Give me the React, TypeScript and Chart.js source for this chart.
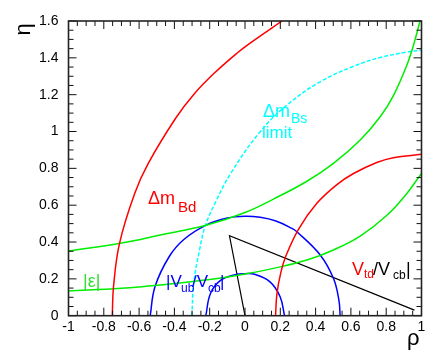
import { useEffect, useRef } from 'react';
import { Chart, registerables } from 'chart.js';

Chart.register(...registerables);

// ---------- axis ticks ----------
const xTicks = [-1, -0.8, -0.6, -0.4, -0.2, 0, 0.2, 0.4, 0.6, 0.8, 1];
const yTicks = [0, 0.2, 0.4, 0.6, 0.8, 1, 1.2, 1.4, 1.6];
const minorStep = 0.05;
const majorStep = 0.2;

// ---------- curves (rho, eta) ----------
// Δm_Bd outer
const dmBdOuterRho = [-0.752, -0.745, -0.711, -0.625, -0.548, -0.393, -0.288, -0.175, -0.046, 0.029, 0.21];
const dmBdOuterEta = [0, 0.157, 0.393, 0.664, 0.827, 1.072, 1.204, 1.316, 1.425, 1.48, 1.6];
// Δm_Bd inner
const dmBdInnerRho = [0.173, 0.181, 0.202, 0.23, 0.303, 0.407, 0.521, 0.615, 0.75, 0.84, 1.0];
const dmBdInnerEta = [0, 0.12, 0.23, 0.32, 0.469, 0.61, 0.712, 0.772, 0.833, 0.858, 0.876];
// |ε| lower
const epsLowRho = [-1, -0.7, -0.48, -0.2, 0, 0.161, 0.351, 0.501, 0.653, 0.804, 0.917, 1.0];
const epsLowEta = [0.134, 0.149, 0.167, 0.196, 0.226, 0.257, 0.302, 0.357, 0.432, 0.545, 0.664, 0.773];
// |ε| upper
const epsHighRho = [-1, -0.707, -0.48, -0.216, 0, 0.161, 0.351, 0.501, 0.653, 0.766, 0.841, 0.917, 0.955, 0.993];
const epsHighEta = [0.351, 0.393, 0.438, 0.492, 0.56, 0.633, 0.73, 0.827, 0.954, 1.08, 1.195, 1.36, 1.47, 1.605];
// Δm_Bs limit
const bsLimitRho = [-0.301, -0.29, -0.257, -0.225, -0.165, -0.08, 0.086, 0.237, 0.426, 0.615, 0.766, 0.917, 1.0];
const bsLimitEta = [0, 0.18, 0.36, 0.488, 0.62, 0.774, 0.999, 1.143, 1.27, 1.354, 1.402, 1.431, 1.442];
// |Vub/Vcb| outer
const vubBigRho = [-0.537, -0.51, -0.43, -0.345, -0.22, -0.1, 0, 0.086, 0.175, 0.266, 0.294, 0.426, 0.501, 0.532, 0.539];
const vubBigEta = [0, 0.157, 0.32, 0.415, 0.492, 0.53, 0.54, 0.534, 0.514, 0.474, 0.456, 0.33, 0.203, 0.085, 0];
// |Vub/Vcb| inner
const vubSmallRho = [-0.222, -0.195, -0.135, -0.046, 0, 0.048, 0.14, 0.199, 0.224];
const vubSmallEta = [0, 0.122, 0.194, 0.225, 0.228, 0.226, 0.185, 0.103, 0];
// unitarity triangle
const triRho = [0, -0.088, 0.96];
const triEta = [0, 0.434, 0.03];

const FONT = '"Liberation Sans", Arial, Helvetica, sans-serif';
const RED = '#ff0000';
const GREEN = '#00ee00';
const BLUE = '#0000ff';
const CYAN = '#00ffff';

const pts = (xs: number[], ys: number[]) => xs.map((x, i) => ({ x, y: ys[i] }));
const fmt = (v: number) => String(Math.round(v * 10) / 10);

type Piece = { t: string; x: number; y: number; size: number; color: string };
const pieces: Piece[] = [
  { t: 'Δm', x: 148, y: 203.5, size: 18, color: RED },
  { t: 'Bd', x: 178, y: 212, size: 15, color: RED },
  { t: 'Δm', x: 263, y: 117, size: 18, color: CYAN },
  { t: 'Bs', x: 291, y: 123, size: 14, color: CYAN },
  { t: 'limit', x: 262, y: 138, size: 17, color: CYAN },
  { t: '|ε|', x: 83, y: 287, size: 18, color: '#33dd33' },
  { t: '|V', x: 166, y: 286.5, size: 17, color: BLUE },
  { t: 'ub', x: 181, y: 292, size: 12, color: BLUE },
  { t: '/V', x: 192, y: 286.5, size: 17, color: BLUE },
  { t: 'cb', x: 208, y: 292, size: 12, color: BLUE },
  { t: '|', x: 220, y: 286.5, size: 17, color: BLUE },
  { t: 'V', x: 352, y: 275, size: 18, color: RED },
  { t: 'td', x: 364, y: 278, size: 12, color: RED },
  { t: '/V', x: 373, y: 275, size: 18, color: '#000' },
  { t: 'cb', x: 393, y: 279, size: 12, color: '#000' },
  { t: '|', x: 406, y: 275, size: 18, color: '#000' },
  { t: 'ρ', x: 407, y: 345, size: 22, color: '#000' },
];

const framePlugin = {
  id: 'rootFrame',
  afterDatasetsDraw(chart: any) {
    const { ctx, chartArea: a, scales } = chart;
    const xs = scales.x;
    const ys = scales.y;
    ctx.save();
    ctx.strokeStyle = '#111';
    ctx.lineWidth = 1;
    ctx.beginPath();
    const isMajor = (v: number) => Math.abs(v / majorStep - Math.round(v / majorStep)) < 1e-6;
    const nx = Math.round((xs.max - xs.min) / minorStep);
    for (let i = 0; i <= nx; i++) {
      const v = xs.min + i * minorStep;
      const px = xs.getPixelForValue(v);
      const len = isMajor(v) ? 8 : 5;
      ctx.moveTo(px, a.bottom);
      ctx.lineTo(px, a.bottom - len);
      ctx.moveTo(px, a.top);
      ctx.lineTo(px, a.top + len);
    }
    const ny = Math.round((ys.max - ys.min) / minorStep);
    for (let i = 0; i <= ny; i++) {
      const v = ys.min + i * minorStep;
      const py = ys.getPixelForValue(v);
      const len = isMajor(v) ? 8 : 5;
      ctx.moveTo(a.left, py);
      ctx.lineTo(a.left + len, py);
      ctx.moveTo(a.right, py);
      ctx.lineTo(a.right - len, py);
    }
    ctx.stroke();
    ctx.strokeStyle = '#222';
    ctx.lineWidth = 1.6;
    ctx.strokeRect(a.left, a.top, a.right - a.left, a.bottom - a.top);
    ctx.restore();
  },
};

const textPlugin = {
  id: 'rootText',
  afterDraw(chart: any) {
    const { ctx } = chart;
    ctx.save();
    ctx.textAlign = 'left';
    ctx.textBaseline = 'alphabetic';
    for (const p of pieces) {
      ctx.font = `${p.size}px ${FONT}`;
      ctx.fillStyle = p.color;
      ctx.fillText(p.t, p.x, p.y);
    }
    // rotated y-axis title
    ctx.translate(30, 35.5);
    ctx.rotate(-Math.PI / 2);
    ctx.font = `22px ${FONT}`;
    ctx.fillStyle = '#000';
    ctx.fillText('η', 0, 0);
    ctx.restore();
  },
};

const line = (data: { x: number; y: number }[], color: string, extra: any = {}) => ({
  data,
  showLine: true,
  borderColor: color,
  backgroundColor: color,
  borderWidth: 1.5,
  pointRadius: 0,
  pointHoverRadius: 0,
  fill: false,
  tension: 0.4,
  ...extra,
});

export default function App() {
  const ref = useRef<HTMLCanvasElement | null>(null);
  useEffect(() => {
    if (!ref.current) return;
    const chart = new Chart(ref.current, {
      type: 'scatter',
      data: {
        datasets: [
          line(pts(dmBdOuterRho, dmBdOuterEta), RED),
          line(pts(dmBdInnerRho, dmBdInnerEta), RED),
          line(pts(epsLowRho, epsLowEta), GREEN),
          line(pts(epsHighRho, epsHighEta), GREEN),
          line(pts(bsLimitRho, bsLimitEta), CYAN, { borderDash: [4, 2] }),
          line(pts(vubBigRho, vubBigEta), BLUE),
          line(pts(vubSmallRho, vubSmallEta), BLUE),
          line(pts(triRho, triEta), '#000', { borderWidth: 1.2, tension: 0 }),
        ] as any,
      },
      options: {
        animation: false,
        responsive: false,
        maintainAspectRatio: false,
        devicePixelRatio: 1,
        layout: { padding: { top: 21, right: 21.5, bottom: 0, left: 0 } },
        plugins: { legend: { display: false }, tooltip: { enabled: false } },
        scales: {
          x: {
            type: 'linear',
            min: -1,
            max: 1,
            grid: { display: false, drawTicks: false },
            border: { display: false },
            afterBuildTicks: (s: any) => {
              s.ticks = xTicks.map((v) => ({ value: v }));
            },
            afterFit: (s: any) => {
              s.height = 48.3;
            },
            ticks: {
              padding: 3,
              color: '#000',
              autoSkip: false,
              maxRotation: 0,
              font: { family: FONT, size: 14 },
              callback: (v: any) => fmt(Number(v)),
            },
          },
          y: {
            type: 'linear',
            min: 0,
            max: 1.6,
            grid: { display: false, drawTicks: false },
            border: { display: false },
            afterBuildTicks: (s: any) => {
              s.ticks = yTicks.map((v) => ({ value: v }));
            },
            afterFit: (s: any) => {
              s.width = 68.5;
            },
            ticks: {
              padding: 10,
              color: '#000',
              autoSkip: false,
              font: { family: FONT, size: 14 },
              callback: (v: any) => fmt(Number(v)),
            },
          },
        },
      } as any,
      plugins: [framePlugin, textPlugin],
    });
    return () => chart.destroy();
  }, []);

  return (
    <div style={{ position: 'fixed', left: 0, top: 0, width: 443, height: 364, background: '#fff' }}>
      <canvas ref={ref} width={443} height={364} style={{ display: 'block', width: 443, height: 364 }} />
    </div>
  );
}
